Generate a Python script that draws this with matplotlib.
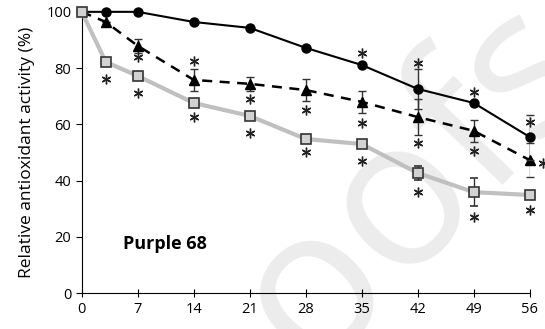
import numpy as np
from matplotlib import pyplot as plt
from matplotlib import transforms

plt.rcParams['font.family'] = ['Open Sans', 'DejaVu Sans']

# storage time (days); first point (day 0) sits under the square marker
days = [0, 3, 7, 14, 21, 28, 35, 42, 49, 56]
circ = [100, 100, 100, 96.4, 94.3, 87.2, 81.1, 72.6, 67.6, 55.5]
circ_err = [0, 0, 0, 0, 0, 0, 0, 7.0, 0, 8.0]

tri = [100, 96.4, 87.9, 75.8, 74.4, 72.2, 68.0, 62.6, 57.7, 47.3]
tri_err = [0, 0, 2.5, 4.0, 2.5, 4.0, 4.0, 6.3, 4.0, 6.0]

sq = [100, 82.2, 77.2, 67.6, 63.0, 54.8, 53.0, 42.7, 35.9, 34.9]
sq_err = [0, 0, 0, 0, 0, 0, 0, 2.5, 5.0, 0]

# significance asterisks: (point index, offset from point in pixels)
stars_circ = [(6, (0, 12)), (7, (0, 26)), (8, (0, 11)), (9, (0, 15))]
stars_tri = [(2, (0, -11)), (3, (0, 19)), (4, (0, -15)), (5, (0, -20)),
             (6, (0, -21)), (7, (0, -26)), (8, (0, -20)), (9, (13, -3))]
stars_sq = [(1, (0, -17)), (2, (0, -17)), (3, (0, -14)), (4, (0, -17)), (5, (0, -13)),
            (6, (0, -17)), (7, (0, -19)), (8, (0, -25)), (9, (0, -15))]

xticks = [0, 7, 14, 21, 28, 35, 42, 49, 56]
yticks = [0, 20, 40, 60, 80, 100]

fig = plt.figure(figsize=(5.45, 3.29), dpi=100)
ax = fig.add_axes([0.150, 0.109, 0.822, 0.855])
ax.set_zorder(1)
ax.patch.set_alpha(0)

# watermark behind the plot
fig.text(0.765, 0.44, 'oofs', fontsize=150, color='#ececec', rotation=46,
         ha='center', va='center', zorder=0)

ax.errorbar(days, sq, yerr=sq_err, color='#c0c0c0', lw=3, marker='s', ms=7,
            mfc='#d2d2d2', mec='#333333', mew=1.2, ecolor='#333333', elinewidth=1,
            capsize=3, zorder=3)
ax.errorbar(days, tri, yerr=tri_err, color='black', lw=1.8, ls=(0, (4, 3)), marker='^',
            ms=7, mfc='black', mec='black', ecolor='#333333', elinewidth=1, capsize=3,
            markevery=slice(1, None), zorder=2.5)
ax.errorbar(days, circ, yerr=circ_err, color='black', lw=1.5, marker='o', ms=6.5,
            mfc='black', mec='black', ecolor='#333333', elinewidth=1, capsize=3,
            markevery=slice(1, None), zorder=2.8)


def add_stars(ys, stars):
    for i, (dx, dy) in stars:
        tr = transforms.offset_copy(ax.transData, fig=fig, x=dx, y=dy, units='dots')
        ax.plot(days[i], ys[i], marker=(6, 2, 0), ms=7, mew=1, color='#222222',
                transform=tr, clip_on=False, zorder=6)


add_stars(circ, stars_circ)
add_stars(tri, stars_tri)
add_stars(sq, stars_sq)

ax.text(5.1, 17.4, 'Purple 68', fontsize=13, fontweight='bold', va='center', ha='left')

ax.set_xlim(0, 56)
ax.set_ylim(0, 100)
ax.set_xticks(xticks)
ax.set_yticks(yticks)
ax.spines['top'].set_visible(False)
ax.spines['right'].set_visible(False)
ax.tick_params(axis='y', direction='out', length=4, labelsize=10.5)
ax.tick_params(axis='x', direction='inout', length=6, labelsize=10.5)
ax.set_ylabel('Relative antioxidant activity (%)', fontsize=12.5, labelpad=8)
for ln in ax.get_lines():
    ln.set_clip_on(False)

fig.savefig('out.png', dpi=100)
